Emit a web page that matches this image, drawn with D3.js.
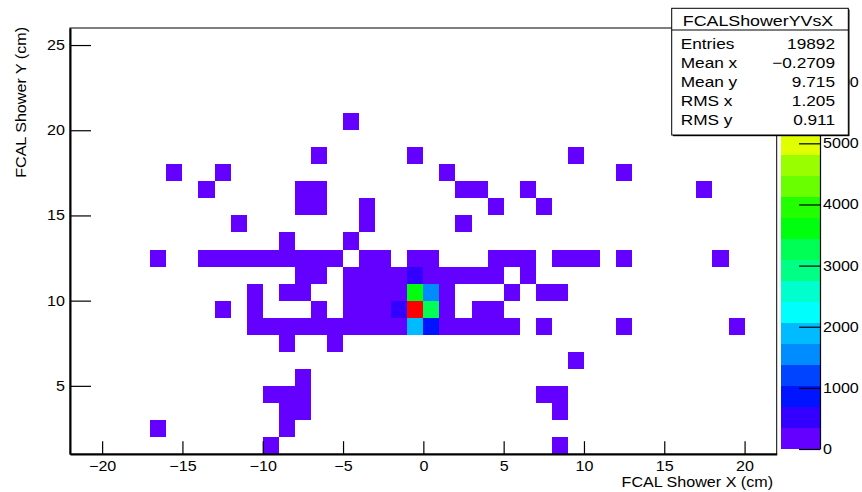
<!DOCTYPE html>
<html>
<head>
<meta charset="utf-8">
<script src="https://cdn.jsdelivr.net/npm/d3@7"></script>
<style>
body { margin: 0; background: #fff; }
text { font-family: "Liberation Sans", Arial, Helvetica, sans-serif; fill: #000; }
</style>
</head>
<body>
<svg id="chart" width="862" height="492"></svg>
<script>
// FCAL shower Y vs X, 1 cm bins
var xRange = [-22, 22];
var yRange = [1, 26];
var xMajor = [-20, -15, -10, -5, 0, 5, 10, 15, 20];
var yMajor = [5, 10, 15, 20, 25];
var zTicks = [0, 1000, 2000, 3000, 4000, 5000, 6000];
var nLevels = 20;

// one entry per row of bins: lower y edge, lower x edges, counts
var binY = [20, 18, 17, 16, 15, 14, 13, 12, 11, 10, 9, 8, 7, 6, 5, 4, 3, 2, 1];
var binX = [
  [-5],
  [-7, -1, 9],
  [-16, -13, 1, 12],
  [-14, -8, -7, 2, 3, 6, 17],
  [-8, -7, -4, 4, 7],
  [-12, -4, 2],
  [-9, -5],
  [-17, -14, -13, -12, -11, -10, -9, -8, -7, -6, -4, -3, -1, 0, 4, 5, 6, 8, 9, 10, 12, 18],
  [-8, -7, -5, -4, -3, -2, -1, 0, 1, 2, 3, 4, 6],
  [-11, -9, -8, -5, -4, -3, -2, -1, 0, 1, 5, 7, 8],
  [-13, -11, -7, -5, -4, -3, -2, -1, 0, 1, 3, 4],
  [-11, -10, -9, -8, -7, -6, -5, -4, -3, -2, -1, 0, 1, 2, 3, 4, 5, 7, 12, 19],
  [-9, -6],
  [9],
  [-8],
  [-10, -9, -8, 7, 8],
  [-9, -8, 8],
  [-17, -9],
  [-10, 8]
];
var binN = [
  [1],
  [1, 2, 1],
  [1, 1, 2, 1],
  [1, 1, 1, 1, 1, 1, 1],
  [1, 1, 1, 1, 1],
  [1, 1, 2],
  [1, 1],
  [1, 1, 1, 1, 1, 1, 2, 1, 1, 2, 2, 3, 15, 12, 2, 1, 1, 1, 1, 1, 1, 1],
  [1, 1, 2, 4, 8, 60, 520, 210, 40, 6, 3, 2, 1],
  [1, 1, 1, 2, 3, 6, 120, 3620, 1560, 70, 1, 1, 1],
  [1, 1, 1, 2, 4, 10, 480, 6880, 3280, 90, 2, 1],
  [1, 1, 1, 1, 1, 2, 2, 3, 4, 45, 1890, 870, 25, 5, 2, 2, 1, 1, 1, 1],
  [1, 1],
  [1],
  [1],
  [1, 1, 1, 1, 1],
  [1, 1, 1],
  [1, 1],
  [1, 1]
];

var statTitle = "FCALShowerYVsX";
var statNames = ["Entries", "Mean x", "Mean y", "RMS x", "RMS y"];
var statValues = ["19892", "\u22120.2709", "9.715", "1.205", "0.911"];
var xTitle = "FCAL Shower X (cm)";
var yTitle = "FCAL Shower Y (cm)";

var sx = 1.15; // the reference font is set a bit wide
var svg = d3.select("#chart");
var fLeft = 70, fRight = 776.7, fTop = 28, fBottom = 454;

var x = d3.scaleLinear().domain(xRange).range([fLeft, fRight]);
var y = d3.scaleLinear().domain(yRange).range([fBottom, fTop]);

var cells = [];
binY.forEach(function(yy, r) {
  binX[r].forEach(function(xx, i) { cells.push({x: xx, y: yy, n: binN[r][i]}); });
});
var zMax = d3.max(cells, function(d) { return d.n; });

// old ROOT "pretty" palette, 50 colours violet -> red, sampled for 20 levels
function levelColor(k) {
  var idx = Math.floor((k + 0.99) * 50 / nLevels);
  return d3.hsl(280 - (idx + 1) * 5.6, 1, 0.5).formatHex();
}
function cellColor(n) {
  return levelColor(Math.min(nLevels - 1, Math.floor(n / (zMax / nLevels))));
}
function minus(d) { return d < 0 ? "\u2212" + (-d) : "" + d; }

svg.append("g").attr("shape-rendering", "crispEdges")
  .selectAll("rect").data(cells).enter().append("rect")
  .attr("x", function(d) { return x(d.x); })
  .attr("y", function(d) { return y(d.y + 1); })
  .attr("width", function(d) { return x(d.x + 1) - x(d.x); })
  .attr("height", function(d) { return y(d.y) - y(d.y + 1); })
  .attr("fill", function(d) { return cellColor(d.n); });

svg.append("rect").attr("x", fLeft).attr("y", fTop)
  .attr("width", fRight - fLeft).attr("height", fBottom - fTop)
  .attr("fill", "none").attr("stroke", "#000").attr("stroke-width", 1);

// x axis
var gx = svg.append("g").attr("transform", "translate(0," + fBottom + ")");
gx.call(d3.axisBottom(x).tickValues(d3.range(-22, 23)).tickSize(-6.4).tickSizeOuter(0).tickFormat(""));
gx.call(d3.axisBottom(x).tickValues(xMajor).tickSize(-12.8).tickSizeOuter(0).tickPadding(7.5).tickFormat(minus));
gx.selectAll(".domain").attr("stroke-width", 2);
gx.selectAll("text").attr("font-size", 14).attr("font-family", null).attr("transform", "scale(" + sx + ",1)");

// y axis
var gy = svg.append("g").attr("transform", "translate(" + fLeft + ",0)");
gy.call(d3.axisLeft(y).tickValues(d3.range(1, 27)).tickSize(-10.5).tickSizeOuter(0).tickFormat(""));
gy.call(d3.axisLeft(y).tickValues(yMajor).tickSize(-21).tickSizeOuter(0).tickPadding(4.4).tickFormat(minus));
gy.selectAll(".domain").attr("stroke-width", 2);
gy.selectAll("text").attr("font-size", 14).attr("font-family", null).attr("transform", "scale(" + sx + ",1)");
svg.selectAll(".tick line").attr("stroke-width", 1.2);

svg.append("text").attr("text-anchor", "end").attr("font-size", 14)
  .attr("transform", "translate(773,487) scale(" + sx + ",1)").text(xTitle);
svg.append("text").attr("text-anchor", "end").attr("font-size", 14)
  .attr("transform", "translate(26,27) rotate(-90) scale(" + sx + ",1)").text(yTitle);

// colour palette
var palLeft = 780.7, palRight = 820;
var z = d3.scaleLinear().domain([0, zMax]).range([449, 28.4]);
svg.append("g").attr("shape-rendering", "crispEdges")
  .selectAll("rect").data(d3.range(nLevels)).enter().append("rect")
  .attr("x", palLeft).attr("width", palRight - palLeft)
  .attr("y", function(k) { return z((k + 1) * zMax / nLevels); })
  .attr("height", function(k) { return z(k * zMax / nLevels) - z((k + 1) * zMax / nLevels); })
  .attr("fill", levelColor);
var gz = svg.append("g").attr("transform", "translate(" + palRight + ",0)");
gz.call(d3.axisRight(z).tickValues(zTicks).tickSize(-21).tickSizeOuter(0).tickPadding(2.6).tickFormat(d3.format("d")));
gz.selectAll(".domain").attr("stroke-width", 1.2);
gz.selectAll(".tick line").attr("stroke-width", 1.2);
gz.selectAll("text").attr("font-size", 14).attr("font-family", null).attr("transform", "scale(" + sx + ",1)");

// stats box, drawn over the top of the palette as in the reference
var sb = {x: 671.7, y: 8.3, w: 176.6, h: 126.7};
svg.append("rect").attr("x", sb.x + 1.2).attr("y", sb.y + 1.2).attr("width", sb.w).attr("height", sb.h).attr("fill", "#000");
svg.append("rect").attr("x", sb.x).attr("y", sb.y).attr("width", sb.w).attr("height", sb.h)
  .attr("fill", "#fff").attr("stroke", "#000").attr("stroke-width", 1);
svg.append("line").attr("x1", sb.x).attr("x2", sb.x + sb.w).attr("y1", 30).attr("y2", 30).attr("stroke", "#000");
svg.append("text").attr("text-anchor", "middle").attr("font-size", 15.5)
  .attr("transform", "translate(758,26) scale(" + sx + ",1)").text(statTitle);
statNames.forEach(function(name, i) {
  var by = 48.5 + i * 19;
  svg.append("text").attr("font-size", 15)
    .attr("transform", "translate(680.7," + by + ") scale(" + sx + ",1)").text(name);
  svg.append("text").attr("font-size", 15).attr("text-anchor", "end")
    .attr("transform", "translate(835," + by + ") scale(" + sx + ",1)").text(statValues[i]);
});
</script>
</body>
</html>
